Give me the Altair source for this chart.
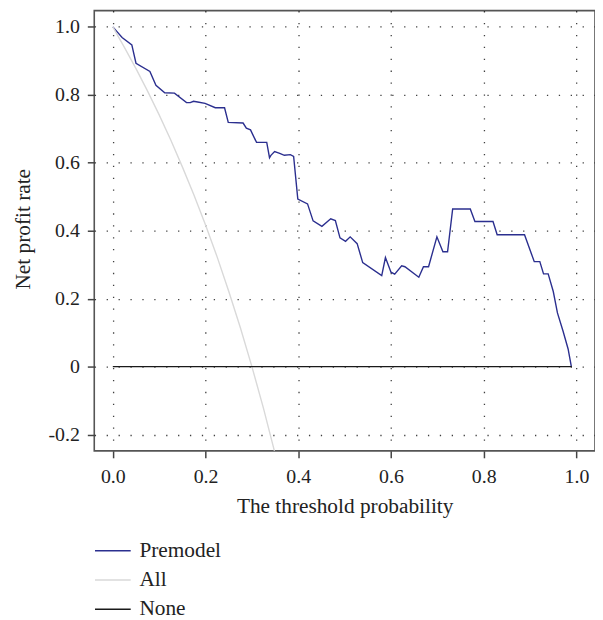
import altair as alt
import pandas as pd

# ---- data ----
premodel_t = [0.000, 0.020, 0.041, 0.050, 0.080, 0.093, 0.112, 0.133, 0.159, 0.167,
              0.174, 0.183, 0.199, 0.221, 0.241, 0.249, 0.281, 0.288, 0.297, 0.310,
              0.332, 0.338, 0.341, 0.349, 0.360, 0.370, 0.383, 0.390, 0.399, 0.420,
              0.432, 0.451, 0.470, 0.480, 0.490, 0.502, 0.512, 0.527, 0.539, 0.580,
              0.588, 0.600, 0.608, 0.623, 0.630, 0.660, 0.670, 0.681, 0.699, 0.712,
              0.722, 0.733, 0.771, 0.781, 0.820, 0.829, 0.888, 0.909, 0.921, 0.929,
              0.939, 0.950, 0.959, 0.971, 0.982, 0.989]
premodel_v = [1.000, 0.969, 0.947, 0.893, 0.869, 0.828, 0.806, 0.805, 0.777, 0.777,
              0.781, 0.779, 0.775, 0.762, 0.762, 0.719, 0.717, 0.702, 0.697, 0.660,
              0.660, 0.615, 0.622, 0.633, 0.628, 0.622, 0.624, 0.619, 0.493, 0.479,
              0.429, 0.413, 0.435, 0.430, 0.379, 0.369, 0.382, 0.362, 0.306, 0.268,
              0.321, 0.278, 0.272, 0.297, 0.294, 0.263, 0.294, 0.294, 0.382, 0.338,
              0.338, 0.464, 0.464, 0.427, 0.427, 0.388, 0.388, 0.309, 0.309, 0.273,
              0.273, 0.221, 0.158, 0.105, 0.052, 0.000]

all_t = [0.000, 0.025, 0.050, 0.075, 0.100, 0.125, 0.150, 0.175, 0.200, 0.225,
         0.250, 0.275, 0.300, 0.325, 0.350]
all_v = [1.000, 0.940, 0.877, 0.811, 0.741, 0.667, 0.588, 0.505, 0.417, 0.323,
         0.222, 0.115, 0.000, -0.123, -0.256]

none_t = [0.000, 0.990]
none_v = [0.000, 0.000]

series_names = ["Premodel", "All", "None"]
series_colors = ["#2b2f8f", "#d9d9d9", "#1a1a1a"]

x_ticks = [0.0, 0.2, 0.4, 0.6, 0.8, 1.0]
y_ticks = [-0.2, 0.0, 0.2, 0.4, 0.6, 0.8, 1.0]

rows = []
for name, ts, vs in [("Premodel", premodel_t, premodel_v),
                     ("All", all_t, all_v),
                     ("None", none_t, none_v)]:
    for i, (t, v) in enumerate(zip(ts, vs)):
        rows.append({"model": name, "t": t, "v": v, "ord": i})
df = pd.DataFrame(rows)

FONT = "Liberation Serif"

x = alt.X(
    "t:Q",
    scale=alt.Scale(domain=[-0.04, 1.04], nice=False, zero=False),
    axis=alt.Axis(values=x_ticks, format=".1f", title="The threshold probability",
                  labelPadding=9, titleY=56, titleBaseline="middle"),
)
y = alt.Y(
    "v:Q",
    scale=alt.Scale(domain=[-0.248, 1.048], nice=False, zero=False),
    axis=alt.Axis(
        values=y_ticks,
        labelExpr="datum.value == 0 ? '0' : (datum.value < 0 ? '-' + format(-datum.value, '.1f') : format(datum.value, '.1f'))",
        title="Net profit rate",
        labelPadding=8,
        titleX=-71, titleY=220, titleBaseline="middle", titleAngle=270,
    ),
)
color = alt.Color(
    "model:N",
    scale=alt.Scale(domain=series_names, range=series_colors),
    sort=series_names,
    legend=alt.Legend(
        title=None, orient="none", legendX=8, legendY=534,
        symbolType="M-2,0L2,0", symbolSize=324, symbolStrokeWidth=1.5,
        labelFont=FONT, labelFontSize=21.5, labelColor="#222222",
        labelOffset=16, rowPadding=6.5, padding=0,
    ),
)

chart = (
    alt.Chart(df)
    .mark_line(clip=True, strokeWidth=1.4)
    .encode(x=x, y=y, color=color, order="ord:Q")
    .properties(width=505, height=444,
                autosize=alt.AutoSizeParams(type="none"),
                padding={"left": 87, "top": 0, "right": 0, "bottom": 172})
    .configure_view(stroke="#555555", strokeWidth=1.6)
    .configure_axis(
        labelFont=FONT, labelFontSize=20, labelColor="#222222",
        titleFont=FONT, titleFontSize=21.5, titleFontWeight="normal", titleColor="#222222",
        domain=False, tickSize=7, tickColor="#444444", tickWidth=1.5,
        grid=True, gridColor="#000000", gridDash=[1.3, 10.7], gridWidth=1.3, gridOpacity=0.75,
    )
)

chart.save("out.html", embed_options={"renderer": "svg", "actions": False})
